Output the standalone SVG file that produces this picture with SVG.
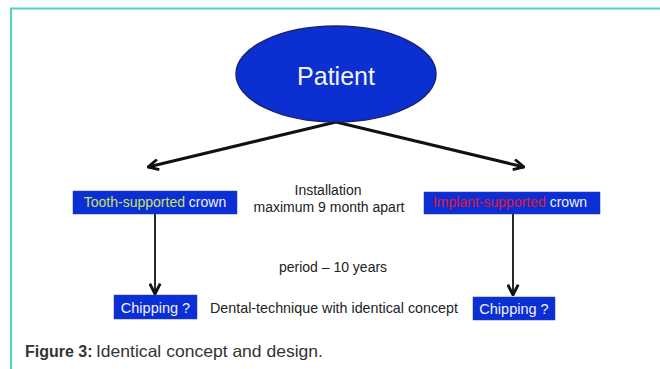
<svg xmlns="http://www.w3.org/2000/svg" width="660" height="369" viewBox="0 0 660 369">
<defs>
<style>
.t{font-family:"Liberation Sans",Arial,sans-serif;font-size:14px;fill:#222}
.box{fill:#0b2fd6;stroke:#2a3fa0;stroke-width:0.5}
.w{fill:#f2f2f2}
.ln{stroke:#111;fill:none}
</style>
<marker id="ah2" viewBox="0 0 10 10" refX="9" refY="5" markerWidth="13" markerHeight="13" orient="auto" markerUnits="userSpaceOnUse">
<path d="M1,1 L9,5 L1,9" fill="none" stroke="#111" stroke-width="2.2"/>
</marker>
</defs>
<rect width="660" height="369" fill="#fff"/>
<g id="frame">
<line x1="10" y1="8.5" x2="660" y2="8.5" stroke="#55d0bd" stroke-width="2"/>
<line x1="11" y1="8" x2="11" y2="369" stroke="#55d0bd" stroke-width="2"/>
</g>
<g id="connectors">
<line class="ln" x1="336" y1="122" x2="148" y2="167" stroke-width="3" marker-end="url(#ah2)"/>
<line class="ln" x1="336" y1="122" x2="524" y2="167" stroke-width="3" marker-end="url(#ah2)"/>
<line class="ln" x1="155" y1="214" x2="155" y2="294" stroke-width="1.8" marker-end="url(#ah2)"/>
<line class="ln" x1="513" y1="214" x2="513" y2="295" stroke-width="1.8" marker-end="url(#ah2)"/>
</g>
<g id="patient">
<ellipse cx="336" cy="74" rx="100" ry="48" fill="#0b2fd0" stroke="#1a2470" stroke-width="1.5"/>
<text x="336" y="85" text-anchor="middle" class="t w" style="font-size:25px">Patient</text>
</g>
<g id="tooth">
<rect class="box" x="73" y="191" width="164" height="23"/>
<text x="155" y="207" text-anchor="middle" class="t"><tspan fill="#cfe05a">Tooth-supported</tspan><tspan class="w"> crown</tspan></text>
</g>
<g id="implant">
<rect class="box" x="424" y="192" width="176" height="22"/>
<text x="510" y="207" text-anchor="middle" class="t"><tspan fill="#e0182e">Implant-supported</tspan><tspan class="w"> crown</tspan></text>
</g>
<g id="chip1">
<rect class="box" x="114" y="295" width="83" height="24"/>
<text x="155.5" y="313" text-anchor="middle" class="t w" style="font-size:14.5px">Chipping ?</text>
</g>
<g id="chip2">
<rect class="box" x="473" y="297" width="82" height="23"/>
<text x="514" y="314" text-anchor="middle" class="t w" style="font-size:14.5px">Chipping ?</text>
</g>
<g id="labels">
<text x="328" y="195" text-anchor="middle" class="t">Installation</text>
<text x="329" y="212" text-anchor="middle" class="t">maximum 9 month apart</text>
<text x="333" y="272" text-anchor="middle" class="t">period – 10 years</text>
<text x="210" y="313" class="t" style="font-size:14.3px">Dental-technique with identical concept</text>
</g>
<g id="caption">
<text x="25" y="357" class="t" style="font-size:16px;fill:#333;font-weight:bold">Figure 3:</text>
<text x="96" y="357" class="t" style="font-size:16.5px;fill:#333" textLength="227" lengthAdjust="spacingAndGlyphs">Identical concept and design.</text>
</g>
</svg>
